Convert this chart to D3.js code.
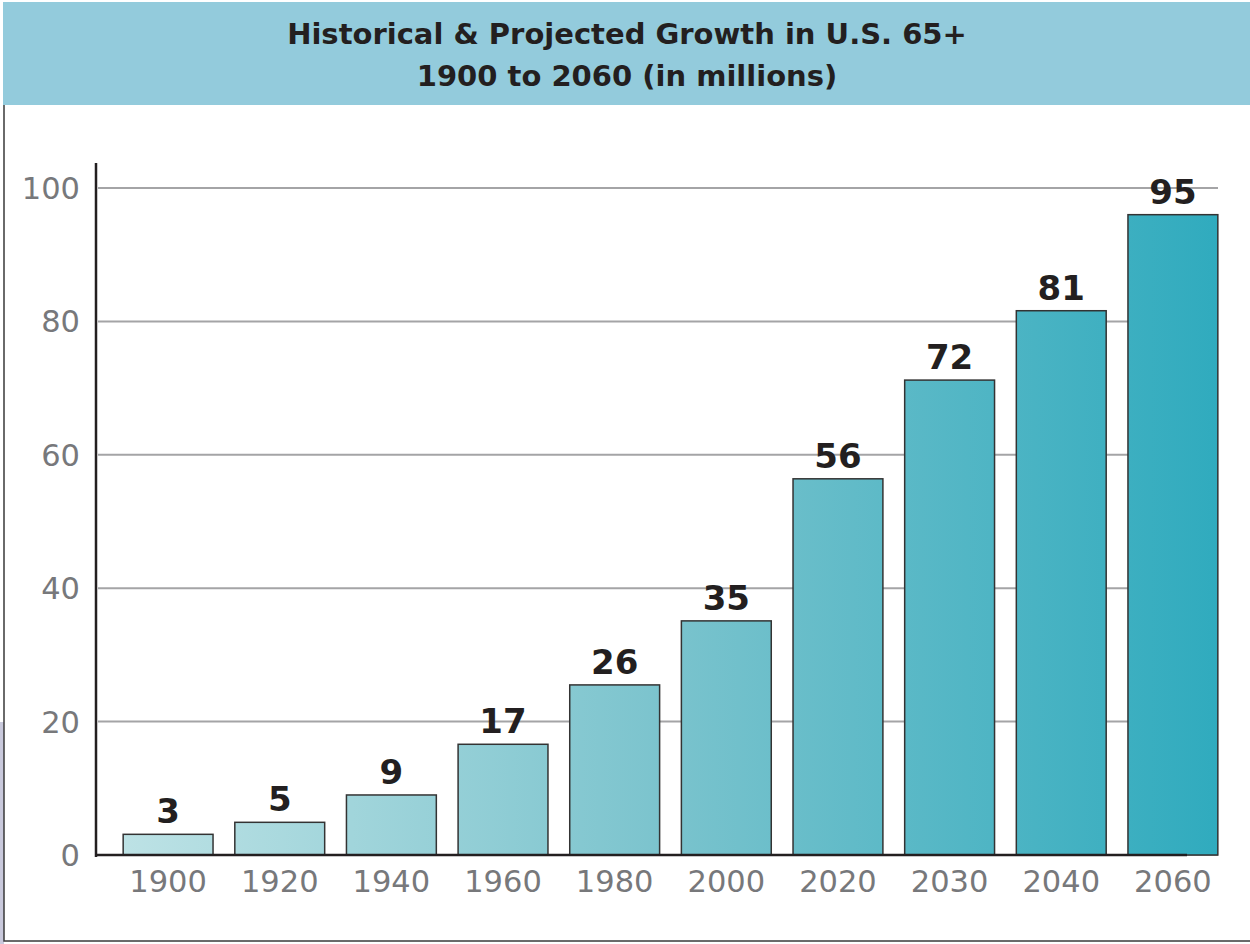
<!DOCTYPE html>
<html>
<head>
<meta charset="utf-8">
<style>
    body { margin: 0; background: #fff; }
    .title { font-family: 'DejaVu Sans', sans-serif; font-weight: bold; font-size: 29px; fill: #231f20; }
    .tick-label { font-family: 'DejaVu Sans', sans-serif; font-size: 30.5px; fill: #77787b; }
    .bar-label { font-family: 'DejaVu Sans', sans-serif; font-weight: bold; font-size: 34px; fill: #231f20; }
    .grid { stroke: #a4a4a6; stroke-width: 2px; }
    .bar { stroke: #333; stroke-width: 1.5px; }
</style>
</head>
<body>
<svg id="chart" width="1250" height="944"></svg>
<script src="https://cdn.jsdelivr.net/npm/d3@7"></script>
<script>
    // data
    var years = ['1900', '1920', '1940', '1960', '1980', '2000', '2020', '2030', '2040', '2060'];
    var heights = [3.1, 4.9, 9.0, 16.6, 25.5, 35.1, 56.4, 71.2, 81.6, 96.0];
    var labels = ['3', '5', '9', '17', '26', '35', '56', '72', '81', '95'];
    var yTicks = [0, 20, 40, 60, 80, 100];
    var titleLines = ['Historical & Projected Growth in U.S. 65+', '1900 to 2060 (in millions)'];

    var svg = d3.select('#chart');

    // frame
    svg.append('rect').attr('x', 0).attr('y', 722).attr('width', 4).attr('height', 222).attr('fill', '#c9c9dc');
    svg.append('rect').attr('x', 4).attr('y', 2).attr('width', 1250).attr('height', 939)
        .attr('fill', '#fff').attr('stroke', '#3a3a3a').attr('stroke-width', 1.5);
    svg.append('rect').attr('x', 3).attr('y', 0).attr('width', 1247).attr('height', 105).attr('fill', '#93cbdc');
    svg.append('rect').attr('x', 0).attr('y', 0).attr('width', 1250).attr('height', 2).attr('fill', '#fff');

    svg.selectAll('.title').data(titleLines).enter().append('text')
        .attr('class', 'title')
        .attr('x', 627)
        .attr('y', function(d, i) { return 44 + i * 42; })
        .attr('text-anchor', 'middle')
        .text(function(d) { return d; });

    // scales
    var x = d3.scaleBand().domain(years).range([112, 1229]).paddingInner(0.195).paddingOuter(0.1);
    var y = d3.scaleLinear().domain([0, 100]).range([855, 188]);

    // gradient over the whole plot
    var grad = svg.append('defs').append('linearGradient')
        .attr('id', 'barfill').attr('gradientUnits', 'userSpaceOnUse')
        .attr('x1', 123).attr('x2', 1218).attr('y1', 0).attr('y2', 0);
    grad.append('stop').attr('offset', '0%').attr('stop-color', '#bde2e5');
    grad.append('stop').attr('offset', '50%').attr('stop-color', '#7ac3cd');
    grad.append('stop').attr('offset', '100%').attr('stop-color', '#30abbe');

    // grid
    svg.selectAll('.grid').data(yTicks).enter().append('line')
        .attr('class', 'grid')
        .attr('x1', 98).attr('x2', 1218)
        .attr('y1', function(d) { return y(d); })
        .attr('y2', function(d) { return y(d); });

    // y tick labels
    svg.selectAll('.ylab').data(yTicks).enter().append('text')
        .attr('class', 'tick-label')
        .attr('x', 80)
        .attr('y', function(d) { return y(d) + 11; })
        .attr('text-anchor', 'end')
        .text(function(d) { return d; });

    // bars
    svg.selectAll('.bar').data(years).enter().append('rect')
        .attr('class', 'bar')
        .attr('fill', 'url(#barfill)')
        .attr('x', function(d) { return x(d); })
        .attr('width', x.bandwidth())
        .attr('y', function(d, i) { return y(heights[i]); })
        .attr('height', function(d, i) { return y(0) - y(heights[i]); });

    svg.selectAll('.bar-label').data(years).enter().append('text')
        .attr('class', 'bar-label')
        .attr('x', function(d) { return x(d) + x.bandwidth() / 2; })
        .attr('y', function(d, i) { return y(heights[i]) - 11; })
        .attr('text-anchor', 'middle')
        .text(function(d, i) { return labels[i]; });

    // x tick labels
    svg.selectAll('.xlab').data(years).enter().append('text')
        .attr('class', 'tick-label')
        .attr('x', function(d) { return x(d) + x.bandwidth() / 2; })
        .attr('y', 892)
        .attr('text-anchor', 'middle')
        .text(function(d) { return d; });

    // axes lines
    svg.append('line').attr('x1', 96).attr('x2', 96).attr('y1', 163).attr('y2', 857)
        .attr('stroke', '#231f20').attr('stroke-width', 2.5);
    svg.append('line').attr('x1', 96).attr('x2', 1187).attr('y1', y(0)).attr('y2', y(0))
        .attr('stroke', '#231f20').attr('stroke-width', 2.5);
</script>
</body>
</html>
